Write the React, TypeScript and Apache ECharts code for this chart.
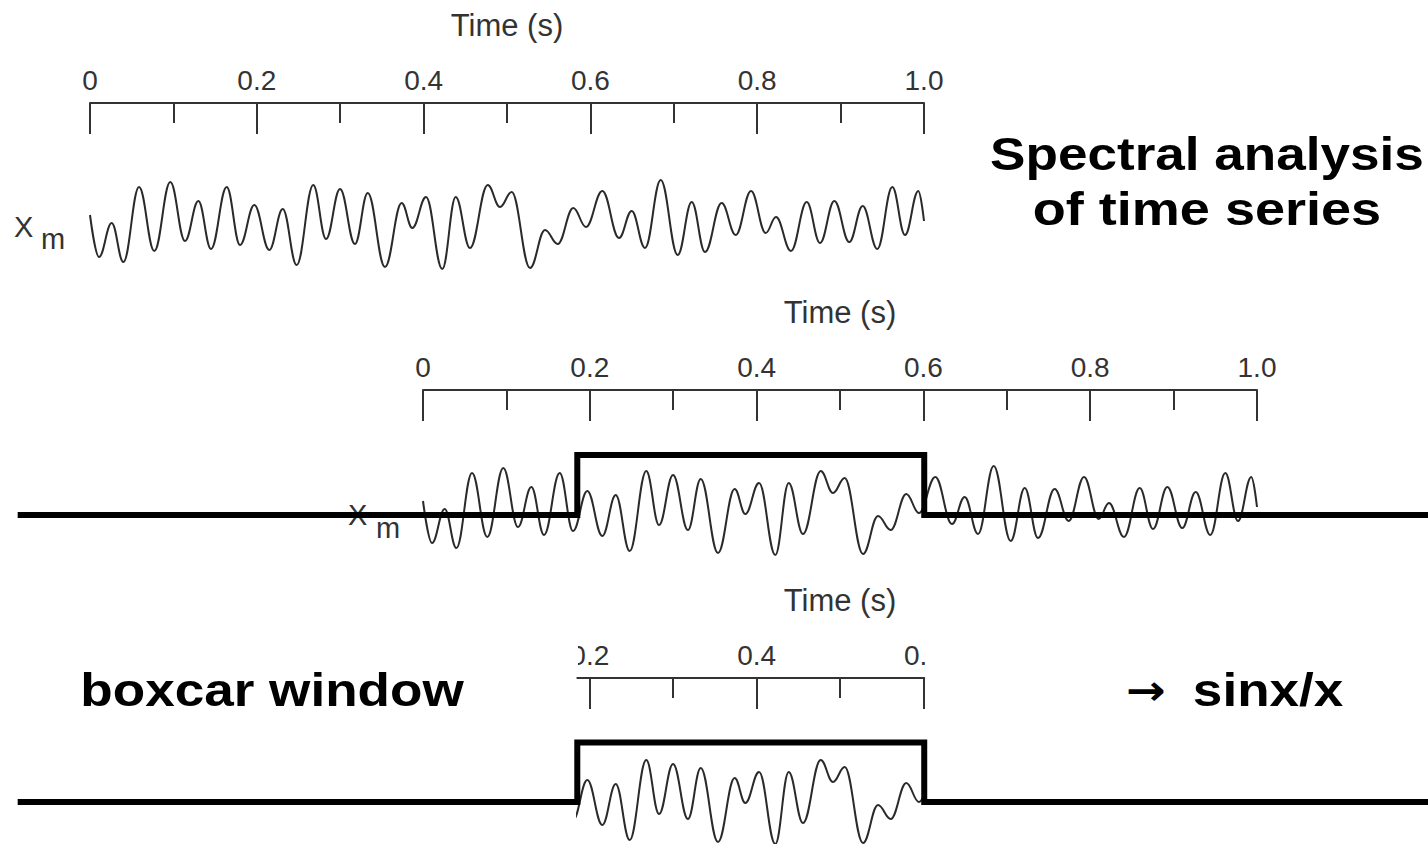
import React, { useEffect, useRef } from 'react';
import * as echarts from 'echarts';

// Signal x_m (time in s, amplitude in arbitrary units)
const timeS = [0.0, 0.0108, 0.026, 0.04, 0.0588, 0.0771, 0.0963, 0.1139, 0.1299, 0.1451, 0.1639, 0.1799, 0.197, 0.215, 0.2311, 0.2478, 0.2677, 0.283, 0.2998, 0.3177, 0.333, 0.3537, 0.3737, 0.3865, 0.4029, 0.4224, 0.4385, 0.4556, 0.4769, 0.4916, 0.5056, 0.5276, 0.5456, 0.5608, 0.5795, 0.5947, 0.6143, 0.6343, 0.6495, 0.6655, 0.6843, 0.7047, 0.7215, 0.7374, 0.7574, 0.7742, 0.7926, 0.8102, 0.8225, 0.8405, 0.8594, 0.8753, 0.8925, 0.9104, 0.9265, 0.944, 0.962, 0.9772, 0.9932, 1.0];
const amplitude = [9, -33, 1, -38, 37, -27, 42, -17, 23, -25, 37, -21, 19, -26, 15, -41, 39, -15, 35, -20, 31, -43, 21, -4, 27, -45, 27, -24, 39, 17, 32, -44, -6, -20, 16, -3, 33, -14, 13, -24, 44, -31, 22, -28, 21, -11, 33, -9, 7, -27, 22, -19, 23, -18, 18, -25, 37, -11, 33, 3];

// Boxcar window
const boxTime = [-0.486, 0.185, 0.185, 0.601, 0.601, 1.45];
const boxLevel = [0, 0, 1, 1, 0, 0];
const windowRange = [0.185, 0.601];

// Tick values
const windowMajorTicks = [0.2, 0.4, 0.6];
const windowMinorTicks = [0.3, 0.5];

const FONT = 'Liberation Sans, Arial, Helvetica, sans-serif';
const AX = '#333';

// layout of the lower panels (pixels)
const P2_LEFT = 423;
const SCALE = 834; // px per second
const W = 1428;

const signal = timeS.map((t, i) => [t, amplitude[i]]);
const boxcar = boxTime.map((t, i) => [t, boxLevel[i]]);

const fmt = (v: number) => (v === 0 ? '0' : v.toFixed(1));

function timeAxis(gridIndex: number, extra: any = {}) {
  return {
    type: 'value',
    gridIndex,
    position: 'top',
    min: 0,
    max: 1,
    interval: 0.2,
    axisLine: { show: true, onZero: false, lineStyle: { color: AX, width: 2 } },
    axisTick: { show: true, inside: true, length: 31, lineStyle: { color: AX, width: 2 } },
    minorTick: { show: true, splitNumber: 2, length: 20, lineStyle: { color: AX, width: 2 } },
    axisLabel: { margin: 9, fontSize: 28, color: AX, fontFamily: FONT, formatter: fmt },
    splitLine: { show: false },
    minorSplitLine: { show: false },
    name: 'Time (s)',
    nameLocation: 'middle',
    nameGap: 62,
    nameTextStyle: { fontSize: 31, color: AX, fontFamily: FONT },
    ...extra,
  };
}

const hiddenX = (gridIndex: number, min: number, max: number) => ({
  type: 'value', gridIndex, min, max, show: false, position: 'top',
  axisLine: { show: false, onZero: false }, splitLine: { show: false },
});

const hiddenY = (gridIndex: number, min: number, max: number) => ({
  type: 'value', gridIndex, min, max, show: false,
  axisLine: { show: false, onZero: false }, splitLine: { show: false },
});

const waveStyle = { color: '#2a2a2a', width: 2 };
const boxStyle = { color: '#000', width: 6, join: 'miter', cap: 'butt' };
const waveSmooth = { smooth: 0.4, smoothMonotone: 'x' };

const winLeft = P2_LEFT + windowRange[0] * SCALE;
const winWidth = (windowRange[1] - windowRange[0]) * SCALE;

const option: any = {
  animation: false,
  backgroundColor: '#fff',
  grid: [
    { left: 90, width: 834, top: 103, height: 187, outerBoundsMode: 'none' },
    { left: P2_LEFT, width: SCALE, top: 390, height: 190, outerBoundsMode: 'none' },
    { left: winLeft, width: winWidth, top: 678, height: 166, outerBoundsMode: 'none' },
    { left: winLeft, width: winWidth, top: 678, height: 166, outerBoundsMode: 'none' },
    { left: P2_LEFT, width: SCALE, top: 678, height: 166, outerBoundsMode: 'none' },
    { left: 0, width: W, top: 390, height: 190, outerBoundsMode: 'none' },
    { left: 0, width: W, top: 678, height: 166, outerBoundsMode: 'none' },
  ],
  xAxis: [
    timeAxis(0),
    timeAxis(1),
    timeAxis(2, {
      min: windowRange[0], max: windowRange[1], interval: undefined,
      name: '',
      minorTick: { show: false },
      axisTick: { show: true, inside: true, length: 31, lineStyle: { color: AX, width: 2 }, customValues: windowMajorTicks },
      axisLabel: { margin: 9, fontSize: 28, color: AX, fontFamily: FONT, formatter: fmt, customValues: windowMajorTicks },
    }),
    timeAxis(3, {
      min: windowRange[0], max: windowRange[1], interval: undefined,
      name: '',
      axisLine: { show: false, onZero: false },
      minorTick: { show: false },
      axisTick: { show: true, inside: true, length: 20, lineStyle: { color: AX, width: 2 }, customValues: windowMinorTicks },
      axisLabel: { show: false },
    }),
    timeAxis(4, {
      axisLine: { show: false, onZero: false },
      axisTick: { show: false },
      minorTick: { show: false },
      axisLabel: { show: false },
    }),
    hiddenX(5, -P2_LEFT / SCALE, (W - P2_LEFT) / SCALE),
    hiddenX(6, -P2_LEFT / SCALE, (W - P2_LEFT) / SCALE),
  ],
  yAxis: [
    hiddenY(0, -66, 121),
    hiddenY(1, -70, 120),
    hiddenY(2, -45, 121),
    hiddenY(3, 0, 1),
    hiddenY(4, 0, 1),
    hiddenY(5, -1.0833, 2.0833),
    hiddenY(6, -0.706, 2.084),
  ],
  series: [
    { type: 'line', xAxisIndex: 0, yAxisIndex: 0, data: signal, ...waveSmooth, showSymbol: false, lineStyle: waveStyle, z: 2 },
    { type: 'line', xAxisIndex: 1, yAxisIndex: 1, data: signal, ...waveSmooth, showSymbol: false, lineStyle: waveStyle, z: 2 },
    { type: 'line', xAxisIndex: 5, yAxisIndex: 5, data: boxcar, showSymbol: false, lineStyle: boxStyle, z: 5 },
    { type: 'line', xAxisIndex: 2, yAxisIndex: 2, data: signal, ...waveSmooth, showSymbol: false, clip: true, lineStyle: waveStyle, z: 2 },
    { type: 'line', xAxisIndex: 6, yAxisIndex: 6, data: boxcar, showSymbol: false, lineStyle: boxStyle, z: 5 },
  ],
  graphic: [
    { type: 'text', x: 1207, y: 154.5, scaleX: 1.13, z: 10, style: { text: 'Spectral analysis', fontSize: 47, fontWeight: 'bold', fontFamily: FONT, fill: '#000', textAlign: 'center', textVerticalAlign: 'middle' } },
    { type: 'text', x: 1207, y: 209, scaleX: 1.15, z: 10, style: { text: 'of time series', fontSize: 47, fontWeight: 'bold', fontFamily: FONT, fill: '#000', textAlign: 'center', textVerticalAlign: 'middle' } },
    { type: 'text', x: 272, y: 690, scaleX: 1.13, z: 10, style: { text: 'boxcar window', fontSize: 47, fontWeight: 'bold', fontFamily: FONT, fill: '#000', textAlign: 'center', textVerticalAlign: 'middle' } },
    {
      type: 'text', x: 1126, y: 690, scaleX: 1.13, z: 10,
      style: {
        text: '{a|→}sinx/x', fontSize: 47, fontWeight: 'bold', fontFamily: FONT, fill: '#000', textAlign: 'left', textVerticalAlign: 'middle',
        rich: { a: { fontFamily: 'DejaVu Sans', fontWeight: 'bold', fontSize: 42, padding: [0, 24, 0, 0], fill: '#000' } },
      },
    },
    { type: 'text', x: 14, y: 227, z: 1, style: { text: 'X', fontSize: 29, fontFamily: FONT, fill: AX, textAlign: 'left', textVerticalAlign: 'middle' } },
    { type: 'text', x: 41, y: 239, z: 1, style: { text: 'm', fontSize: 29, fontFamily: FONT, fill: AX, textAlign: 'left', textVerticalAlign: 'middle' } },
    { type: 'text', x: 348, y: 515, z: 1, style: { text: 'X', fontSize: 29, fontFamily: FONT, fill: AX, textAlign: 'left', textVerticalAlign: 'middle' } },
    { type: 'text', x: 376, y: 528, z: 1, style: { text: 'm', fontSize: 29, fontFamily: FONT, fill: AX, textAlign: 'left', textVerticalAlign: 'middle' } },
    { type: 'rect', z: 100, shape: { x: 530, y: 636, width: 48, height: 38 }, style: { fill: '#fff' } },
    { type: 'rect', z: 100, shape: { x: 925, y: 636, width: 45, height: 38 }, style: { fill: '#fff' } },
  ],
};

export default function App() {
  const ref = useRef<HTMLDivElement>(null);
  useEffect(() => {
    if (!ref.current) return;
    const chart = echarts.init(ref.current, null, { renderer: 'svg' });
    chart.setOption(option);
    return () => chart.dispose();
  }, []);
  return (
    <div
      ref={ref}
      style={{ position: 'fixed', left: 0, top: 0, width: 1428, height: 844, background: '#fff' }}
    />
  );
}
